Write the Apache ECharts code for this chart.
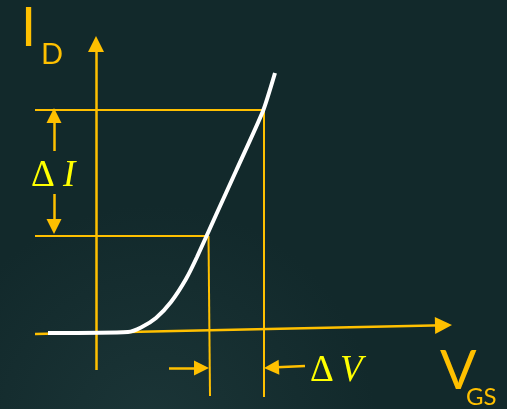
<!DOCTYPE html>
<html>
<head>
<meta charset="utf-8">
<script src="https://cdn.jsdelivr.net/npm/echarts@6/dist/echarts.min.js"></script>
<style>
html,body{margin:0;padding:0;background:#12292b;}
#main{width:507px;height:409px;}
</style>
</head>
<body>
<div id="main"></div>
<script>
// transfer curve I_D(V_GS), schematic units (origin where the two axes cross)
var curveV = [-48, 32, 45, 60, 75, 90, 101, 120, 140, 167, 179];
var curveI = [0, 1, 5.5, 15, 31, 54, 76, 118, 162, 222, 260];

// the two operating points picked on the curve
var pickV = [113, 168];
var pickI = [97, 223];

// texts
var yName = ['I', 'D'];
var xName = ['V', 'GS'];
var dI = ['\u0394', 'I'];
var dV = ['\u0394', 'V'];

var AX = '#ffc000';

var chart = echarts.init(document.getElementById('main'));

function seg(a, b, arrow, size) {
	return {
		coords: [a, b],
		symbol: arrow ? ['none', 'triangle'] : ['none', 'none'],
		symbolSize: size || 15
	};
}

var curve = [];
for (var i = 0; i < curveV.length; i++) curve.push([curveV[i], curveI[i]]);

// axes with arrow heads
var axes = [
	seg([-61, -1], [347.5, 7.8], true, [15, 17]),
	seg([0, -37], [0, 289], true, [15, 16])
];
// guide lines from the operating points
var guides = [
	seg([-61, pickI[1]], [pickV[1], pickI[1]]),
	seg([-61, pickI[0]], [pickV[0] - 1, pickI[0]]),
	seg([pickV[1], pickI[1]], [pickV[1], -64]),
	seg([pickV[0] - 0.5, pickI[0]], [pickV[0] + 1, -63])
];
// delta arrows
var deltas = [
	seg([-42, 182], [-42, pickI[1] + 2 - 7.5], true, [15, 15]),
	seg([-42, 139], [-42, pickI[0] + 2 + 7.5], true, [15, 15]),
	seg([73, -35], [pickV[0] - 7.5, -35], true, [14, 15]),
	seg([209, -33], [pickV[1] + 7.5, -34.6], true, [14, 15])
];

function txt(s, x, y, size, font, color, style) {
	return {
		type: 'text', left: x, top: y, z: 10,
		style: { text: s, fill: color, font: (style || 'normal') + ' ' + size + 'px ' + font }
	};
}

chart.setOption({
	backgroundColor: {
		type: 'radial', x: 0.3, y: 1.05, r: 0.55,
		colorStops: [{ offset: 0, color: '#1b3537' }, { offset: 1, color: '#12292b' }]
	},
	animation: false,
	grid: { left: 0, right: 0, top: 0, bottom: 0 },
	xAxis: { type: 'value', min: -96, max: 411, show: false },
	yAxis: { type: 'value', min: -76, max: 333, show: false },
	series: [
		{
			type: 'lines', coordinateSystem: 'cartesian2d', data: axes,
			lineStyle: { color: AX, width: 2.5, opacity: 1 }, itemStyle: { color: AX }
		},
		{
			type: 'lines', coordinateSystem: 'cartesian2d', data: guides,
			lineStyle: { color: AX, width: 2, opacity: 1 }
		},
		{
			type: 'lines', coordinateSystem: 'cartesian2d', data: deltas,
			lineStyle: { color: AX, width: 2.5, opacity: 1 }, itemStyle: { color: AX }
		},
		{
			type: 'line', data: curve, smooth: 0.2, symbol: 'none', z: 5,
			lineStyle: { color: '#ffffff', width: 4 }
		}
	],
	graphic: [
		txt(yName[0], 21, 2, 54, 'Lato', AX),
		txt(yName[1], 41, 40, 29, 'Lato', AX),
		txt(xName[0], 440, 345, 54, 'Lato', AX),
		txt(xName[1], 466, 385, 24, 'Lato', AX),
		txt(dI[0], 31, 158, 37, '"Liberation Serif"', '#ffff00'),
		txt(dI[1], 63, 158, 37, '"Liberation Serif"', '#ffff00', 'italic'),
		txt(dV[0], 310, 353, 37, '"Liberation Serif"', '#ffff00'),
		txt(dV[1], 340, 353, 37, '"Liberation Serif"', '#ffff00', 'italic')
	]
});
</script>
</body>
</html>
